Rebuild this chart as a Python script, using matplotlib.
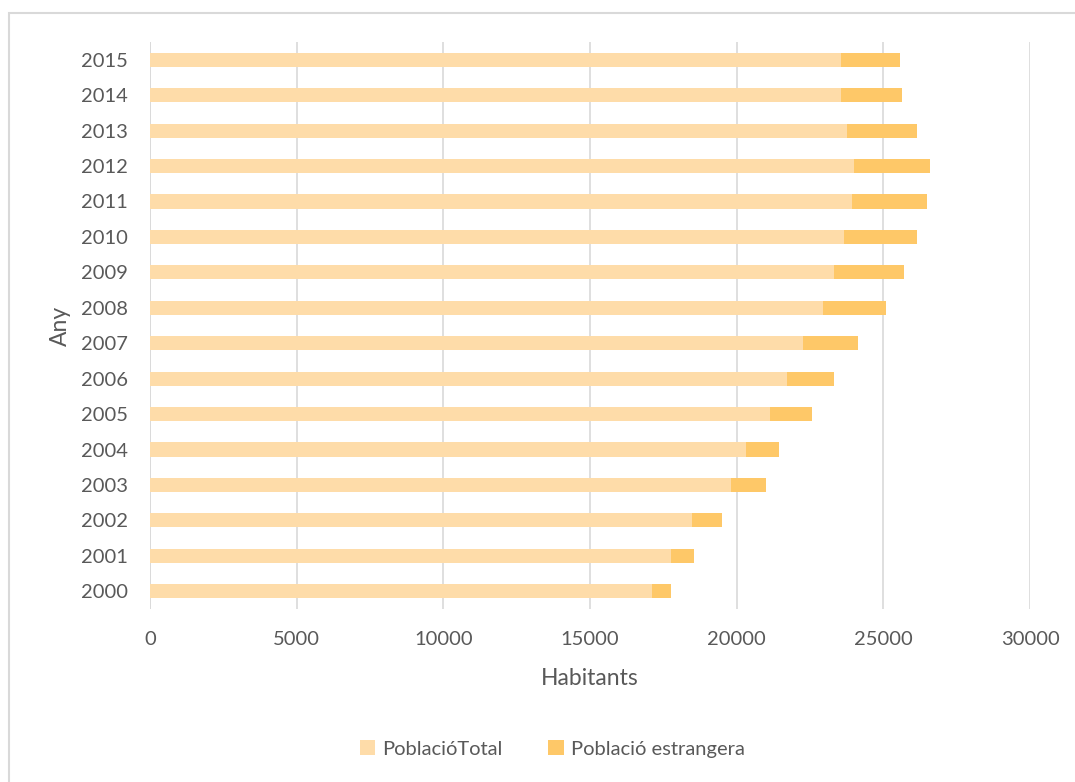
import matplotlib.pyplot as plt
from matplotlib.patches import Rectangle

# Population by year (stacked: total + foreign residents)
years = [2000, 2001, 2002, 2003, 2004, 2005, 2006, 2007,
         2008, 2009, 2010, 2011, 2012, 2013, 2014, 2015]
poblacio_total = [17130, 17770, 18490, 19810, 20320, 21120, 21710, 22270,
                  22940, 23330, 23670, 23920, 23990, 23750, 23540, 23540]
poblacio_estrangera = [640, 760, 1010, 1180, 1130, 1440, 1600, 1850,
                       2150, 2360, 2490, 2580, 2590, 2410, 2110, 2030]
x_ticks = [0, 5000, 10000, 15000, 20000, 25000, 30000]

text_color = "#595959"
grid_color = "#D9D9D9"
col_total = "#FEDCA9"
col_foreign = "#FEC868"

plt.rcParams["font.family"] = ["Lato", "DejaVu Sans"]

fig = plt.figure(figsize=(10.75, 7.82), dpi=100)
W, H = 1075, 782

# outer chart frame (left and top edges visible)
fig.patches.append(Rectangle((9 / W, -0.2), 1.2, 1.2 - 13 / H, transform=fig.transFigure,
                             fill=False, edgecolor="#D9D9D9", linewidth=1.5))

ax = fig.add_axes([150 / W, 1 - 609 / H, (1030 - 150) / W, (609 - 42) / H])

pos = list(range(len(years)))
ax.barh(pos, poblacio_total, height=0.4, color=col_total, label="PoblacióTotal", zorder=3)
ax.barh(pos, poblacio_estrangera, left=poblacio_total, height=0.4, color=col_foreign,
        label="Població estrangera", zorder=3)

ax.set_xlim(0, 30000)
ax.set_ylim(-0.5, len(years) - 0.5)
ax.set_xticks(x_ticks)
ax.set_xticklabels([str(v) for v in x_ticks])
ax.set_yticks(pos)
ax.set_yticklabels([str(y) for y in years])

ax.grid(axis="x", color=grid_color, linewidth=1.2, zorder=0)
ax.axvline(0, color=grid_color, linewidth=1.2, zorder=0)
for s in ax.spines.values():
    s.set_visible(False)
ax.tick_params(axis="both", length=0, labelsize=14.5, colors=text_color)
ax.tick_params(axis="x", pad=16)
ax.tick_params(axis="y", pad=16)

ax.set_xlabel("Habitants", fontsize=16.5, color=text_color, labelpad=14)
ax.set_ylabel("Any", fontsize=16.5, color=text_color, labelpad=7)

fig.legend(loc="center", bbox_to_anchor=(552 / W, 1 - 749 / H), ncol=2, frameon=False,
           fontsize=14.5, labelcolor=text_color, handlelength=0.75, handleheight=0.75,
           handletextpad=0.35, columnspacing=2.3)

fig.savefig("out.png", dpi=100, facecolor="white")
